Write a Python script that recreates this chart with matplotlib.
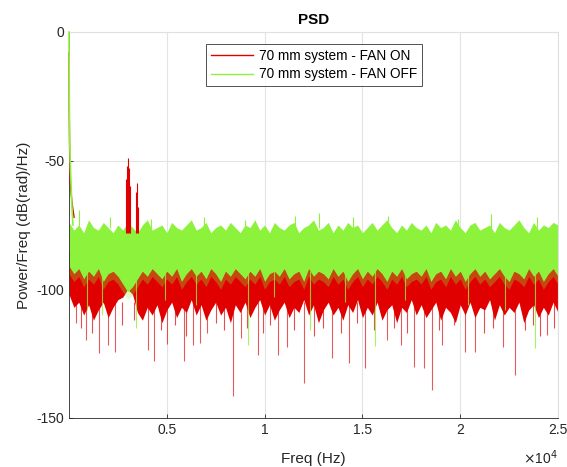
import numpy as np
import matplotlib
matplotlib.use("Agg")
import matplotlib.pyplot as plt

plt.rcParams['font.family'] = ['Liberation Sans', 'DejaVu Sans']
plt.rcParams['axes.unicode_minus'] = False

# ---- values (dB, Hz) ----
knot_freq = np.arange(0, 25001, 250)

green_top = [-74, -77, -75, -78, -73, -76, -77, -74, -76, -78,
             -75, -77, -74, -76, -78, -75, -73, -77, -76, -75,
             -78, -74, -76, -77, -75, -73, -77, -76, -74, -78,
             -76, -75, -77, -74, -76, -78, -75, -76, -73, -77,
             -75, -78, -74, -76, -77, -75, -74, -78, -76, -75,
             -73, -77, -76, -74, -78, -75, -77, -74, -76, -75,
             -78, -76, -74, -77, -75, -73, -76, -78, -75, -77,
             -74, -76, -77, -75, -78, -74, -76, -75, -77, -73,
             -76, -78, -75, -74, -77, -76, -75, -78, -74, -76,
             -77, -75, -73, -76, -78, -74, -77, -75, -76, -74,
             -75]
green_bottom = [-91, -94, -92, -96, -93, -95, -92, -97, -94, -93,
                -95, -98, -101, -99, -96, -93, -95, -92, -94, -96,
                -93, -95, -92, -97, -94, -92, -95, -93, -96, -92,
                -94, -97, -93, -95, -92, -94, -96, -93, -95, -92,
                -97, -94, -93, -95, -92, -96, -94, -93, -97, -92,
                -95, -93, -94, -96, -92, -95, -93, -97, -94, -92,
                -96, -93, -95, -92, -94, -97, -93, -95, -92, -96,
                -94, -93, -95, -92, -97, -94, -93, -96, -92, -95,
                -93, -97, -94, -92, -95, -93, -96, -94, -92, -95,
                -97, -93, -94, -96, -92, -95, -93, -97, -94, -92,
                -95]
red_bottom = [-102, -107, -105, -110, -106, -112, -108, -105, -111, -107,
              -104, -103, -100, -102, -109, -112, -107, -110, -106, -113,
              -108, -105, -111, -107, -109, -104, -110, -106, -112, -108,
              -105, -110, -107, -113, -106, -109, -105, -111, -107, -104,
              -110, -106, -112, -108, -105, -111, -107, -109, -104, -110,
              -106, -113, -108, -105, -110, -107, -112, -106, -109, -104,
              -111, -107, -110, -105, -112, -108, -106, -113, -107, -109,
              -104, -110, -106, -111, -108, -105, -112, -107, -109, -113,
              -106, -110, -105, -111, -107, -108, -104, -112, -106, -110,
              -107, -109, -105, -113, -108, -106, -111, -107, -110, -105,
              -109]

green_low_f = [0, 15, 30, 60, 100, 150, 200]
green_low_db = [0, -25, -40, -50, -58, -68, -75]
red_low_f = [0, 12, 30, 60, 100, 150, 200, 260]
red_low_db = [-8, -30, -45, -58, -62, -66, -69, -72]

red_peak_f = [2930, 2990, 3010, 3060, 3110, 3440, 3470, 3530]
red_peak_db = [-57, -52, -49, -53, -60, -62, -58.7, -68]

red_dip_f = [360, 870, 1550, 1990, 2350, 4020, 4360, 5010, 5895, 6340, 6680,
             7055, 8390, 8800, 9660, 10690, 11130, 12015, 13450, 14320,
             15140, 16240, 16975, 17640, 18150, 18560, 19070, 20230, 20740,
             22190, 22820, 24440]
red_dip_db = [-113, -119.7, -124.9, -121.8, -124.4, -123.6, -128, -121.3, -128, -121.7, -121,
              -117, -141.5, -119, -125.6, -125.6, -122.4, -136.4, -126.7, -128.6,
              -130.6, -119.7, -121.6, -130, -130.6, -139, -121.6, -124.4, -124.4,
              -122.4, -133.3, -117.8]
red_small_f = [620, 1200, 2700, 3300, 4700, 5400, 6000, 7500, 7900, 9100, 9900,
               10300, 11500, 12500, 13000, 13900, 14700, 15600, 16600, 17300,
               18900, 19700, 21200, 21700, 23300, 23700, 24100, 24800]
red_small_db = [-115, -117, -114, -112, -116, -114, -118, -113, -116, -115, -117,
                -114, -116, -118, -115, -117, -113, -116, -115, -117,
                -116, -114, -117, -115, -116, -114, -118, -115]

green_peak_f = [510, 2100, 4200, 6900, 9000, 11554, 12781, 14500, 16300, 19900, 21575, 23900]
green_peak_db = [-69, -72, -72.5, -72, -73, -71.6, -70.4, -72, -71.5, -72.5, -70.6, -72]
green_dip_f = [900, 1700, 3425, 4900, 6500, 9150, 10500, 12320, 14100, 15644, 17200, 20400, 22300, 23824]
green_dip_db = [-108, -110, -115, -104, -106, -121.7, -103, -116, -105, -122, -104, -106, -108, -123]

fig = plt.figure(figsize=(5.67, 4.67), dpi=100)
ax = fig.add_axes([0.1217, 0.105, 0.8625, 0.8265])

red = '#e00000'
green = '#8df23b'

# FAN ON (red)
ax.fill_between(knot_freq, red_bottom, -85, color=red, lw=0)
ax.vlines(red_small_f, [-105] * len(red_small_f), red_small_db, color=red, lw=0.8, alpha=0.7)
ax.vlines(red_dip_f, [-105] * len(red_dip_f), red_dip_db, color=red, lw=0.8, alpha=0.65)
ax.vlines(red_peak_f, [-78] * len(red_peak_f), red_peak_db, color=red, lw=0.8)
ax.plot(red_low_f, red_low_db, color=red, lw=1.0, clip_on=False, zorder=3)
on_line, = ax.plot([], [], color=red, lw=1.0, label='70 mm system - FAN ON')

# FAN OFF (green)
ax.fill_between(knot_freq, green_bottom, green_top, color=green, lw=0)
# strands of green thinning out over the red band
ax.fill_between(knot_freq, np.array(green_bottom) - 3, green_bottom, color=green, lw=0, alpha=0.3)
ax.vlines(green_peak_f, [-76] * len(green_peak_f), green_peak_db, color=green, lw=0.8)
ax.vlines(green_dip_f, [-93] * len(green_dip_f), green_dip_db, color=green, lw=0.8, alpha=0.8)
ax.plot(green_low_f, green_low_db, color=green, lw=1.2, clip_on=False, zorder=3.1)
off_line, = ax.plot([], [], color=green, lw=1.0, label='70 mm system - FAN OFF')

ax.set_xlim(0, 25000)
ax.set_ylim(-150, 0)
ax.set_xticks([5000, 10000, 15000, 20000, 25000])
ax.set_xticklabels(['0.5', '1', '1.5', '2', '2.5'])
ax.set_yticks([-150, -100, -50, 0])
ax.tick_params(direction='in', length=3, labelsize=10, colors='#262626', width=0.6)
ax.grid(True, color='#e3e3e3', lw=0.8)
ax.set_axisbelow(True)
for side in ['top', 'right']:
    ax.spines[side].set_color('#e0e0e0')
for side in ['left', 'bottom']:
    ax.spines[side].set_color('#262626')
    ax.spines[side].set_linewidth(0.6)

ax.set_title('PSD', fontsize=11, fontweight='bold', pad=6)
ax.set_xlabel('Freq (Hz)', fontsize=11, color='#262626', labelpad=11)
ax.set_ylabel('Power/Freq (dB(rad)/Hz)', fontsize=11, color='#262626', labelpad=4)
fig.text(0.984, 0.0, r'$\times$10$^4$', ha='right', va='bottom', fontsize=10, color='#262626')

leg = ax.legend(handles=[on_line, off_line], loc='upper center', bbox_to_anchor=(0.501, 0.969),
                fontsize=9.8, handlelength=3.1, frameon=True, fancybox=False,
                borderpad=0.35, labelspacing=0.35, handletextpad=0.45, borderaxespad=0)
leg.get_frame().set_edgecolor('#262626')
leg.get_frame().set_linewidth(0.7)

fig.savefig('out.png', dpi=100)
